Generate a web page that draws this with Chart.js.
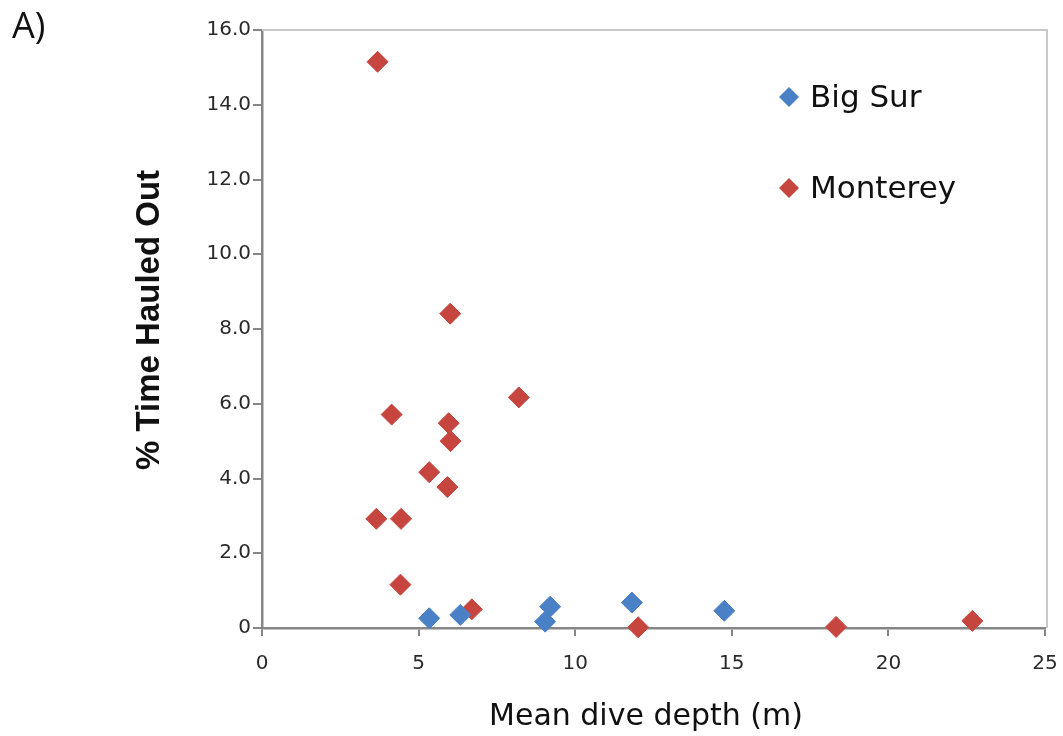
<!DOCTYPE html>
<html>
<head>
<meta charset="utf-8">
<script src="https://cdn.jsdelivr.net/npm/chart.js@4.4.1/dist/chart.umd.min.js"></script>
<style>
  html, body { margin: 0; padding: 0; background: #ffffff; }
  #wrap { width: 1063px; height: 736px; }
</style>
</head>
<body>
<div id="wrap"><canvas id="c" width="1063" height="736"></canvas></div>
<script>
// Panel texts
const panelLabel = 'A)';
const xTitle = 'Mean dive depth (m)';
const yTitle = '% Time Hauled Out';

// Tick labels
const xTickLabels = ['0', '5', '10', '15', '20', '25'];
const yTickLabels = ['0', '2.0', '4.0', '6.0', '8.0', '10.0', '12.0', '14.0', '16.0'];

// Series
const seriesNames = ['Big Sur', 'Monterey'];
const seriesColors = ['#4a80c6', '#c6463f'];

const bigSurDepth  = [5.34, 6.33, 9.04, 9.20, 11.81, 14.76];
const bigSurHauled = [0.26, 0.35, 0.17, 0.57, 0.68, 0.46];

const montereyDepth  = [3.69, 6.01, 8.20, 4.14, 5.96, 6.02, 5.34, 5.92, 3.65, 4.44, 4.42, 6.70, 12.01, 18.33, 22.68];
const montereyHauled = [15.15, 8.41, 6.17, 5.71, 5.48, 5.00, 4.17, 3.77, 2.92, 2.92, 1.16, 0.50, 0.02, 0.03, 0.19];

function toPoints(xs, ys) {
  return xs.map((x, i) => ({ x: x, y: ys[i] }));
}

function diamond(ctx, x, y, r, color) {
  ctx.beginPath();
  ctx.moveTo(x - r, y);
  ctx.lineTo(x, y - r);
  ctx.lineTo(x + r, y);
  ctx.lineTo(x, y + r);
  ctx.closePath();
  ctx.fillStyle = color;
  ctx.fill();
}

// Frame, panel label, axis titles and the in-plot legend
const decorations = {
  id: 'decorations',
  afterDraw(chart) {
    const ctx = chart.ctx;
    const a = chart.chartArea;
    ctx.save();

    // light plot-area frame on top and right
    ctx.strokeStyle = '#c8c8c8';
    ctx.lineWidth = 2;
    ctx.beginPath();
    ctx.moveTo(a.left, a.top);
    ctx.lineTo(a.right + 2, a.top);
    ctx.lineTo(a.right + 2, a.bottom);
    ctx.stroke();

    // panel label
    ctx.fillStyle = '#111111';
    ctx.font = '36px "Open Sans"';
    ctx.textAlign = 'left';
    ctx.textBaseline = 'alphabetic';
    ctx.fillText(panelLabel, 12, 38);

    // x title
    ctx.font = '30px "DejaVu Sans"';
    ctx.textAlign = 'center';
    ctx.fillText(xTitle, 646, 725);

    // y title
    ctx.save();
    ctx.translate(150, 320);
    ctx.rotate(-Math.PI / 2);
    ctx.font = 'bold 33px "Liberation Sans"';
    ctx.textAlign = 'center';
    ctx.textBaseline = 'middle';
    ctx.fillText(yTitle, 0, 0);
    ctx.restore();

    // legend
    const rows = [107, 198];
    chart.data.datasets.forEach((ds, i) => {
      const base = rows[i];
      diamond(ctx, 789, base - 10, 10, ds.backgroundColor);
      ctx.fillStyle = '#111111';
      ctx.font = '31px "DejaVu Sans"';
      ctx.textAlign = 'left';
      ctx.textBaseline = 'alphabetic';
      ctx.fillText(ds.label, 810, base);
    });

    ctx.restore();
  }
};

const axisGray = '#868686';

new Chart(document.getElementById('c'), {
  type: 'scatter',
  data: {
    datasets: [
      {
        label: seriesNames[0],
        data: toPoints(bigSurDepth, bigSurHauled),
        backgroundColor: seriesColors[0],
        borderColor: seriesColors[0],
        borderWidth: 1,
        pointStyle: 'rectRot',
        pointRadius: 10.5,
        clip: false
      },
      {
        label: seriesNames[1],
        data: toPoints(montereyDepth, montereyHauled),
        backgroundColor: seriesColors[1],
        borderColor: seriesColors[1],
        borderWidth: 1,
        pointStyle: 'rectRot',
        pointRadius: 10.5,
        clip: false
      }
    ]
  },
  options: {
    responsive: false,
    animation: false,
    devicePixelRatio: 1,
    layout: { padding: { left: 0, top: 30, right: 18, bottom: 0 } },
    plugins: {
      legend: { display: false },
      tooltip: { enabled: false },
      title: { display: false }
    },
    scales: {
      x: {
        type: 'linear',
        min: 0,
        max: 25,
        afterFit: s => { s.height = 108; s.paddingLeft = 0; s.paddingRight = 0; },
        ticks: {
          stepSize: 5,
          color: '#2a2a2a',
          font: { family: 'DejaVu Sans', size: 20 },
          padding: 16,
          maxRotation: 0,
          callback: v => xTickLabels[Math.round(v / 5)]
        },
        grid: {
          drawOnChartArea: false,
          drawTicks: true,
          tickLength: 8,
          color: axisGray,
          lineWidth: 2
        },
        border: { color: axisGray, width: 2.5 }
      },
      y: {
        type: 'linear',
        min: 0,
        max: 16,
        afterFit: s => { s.width = 262; s.paddingTop = 0; s.paddingBottom = 0; },
        ticks: {
          stepSize: 2,
          color: '#2a2a2a',
          font: { family: 'DejaVu Sans', size: 20 },
          padding: 2,
          callback: v => yTickLabels[Math.round(v / 2)]
        },
        grid: {
          drawOnChartArea: false,
          drawTicks: true,
          tickLength: 9,
          color: axisGray,
          lineWidth: 2
        },
        border: { color: axisGray, width: 2.5 }
      }
    }
  },
  plugins: [decorations]
});
</script>
</body>
</html>
